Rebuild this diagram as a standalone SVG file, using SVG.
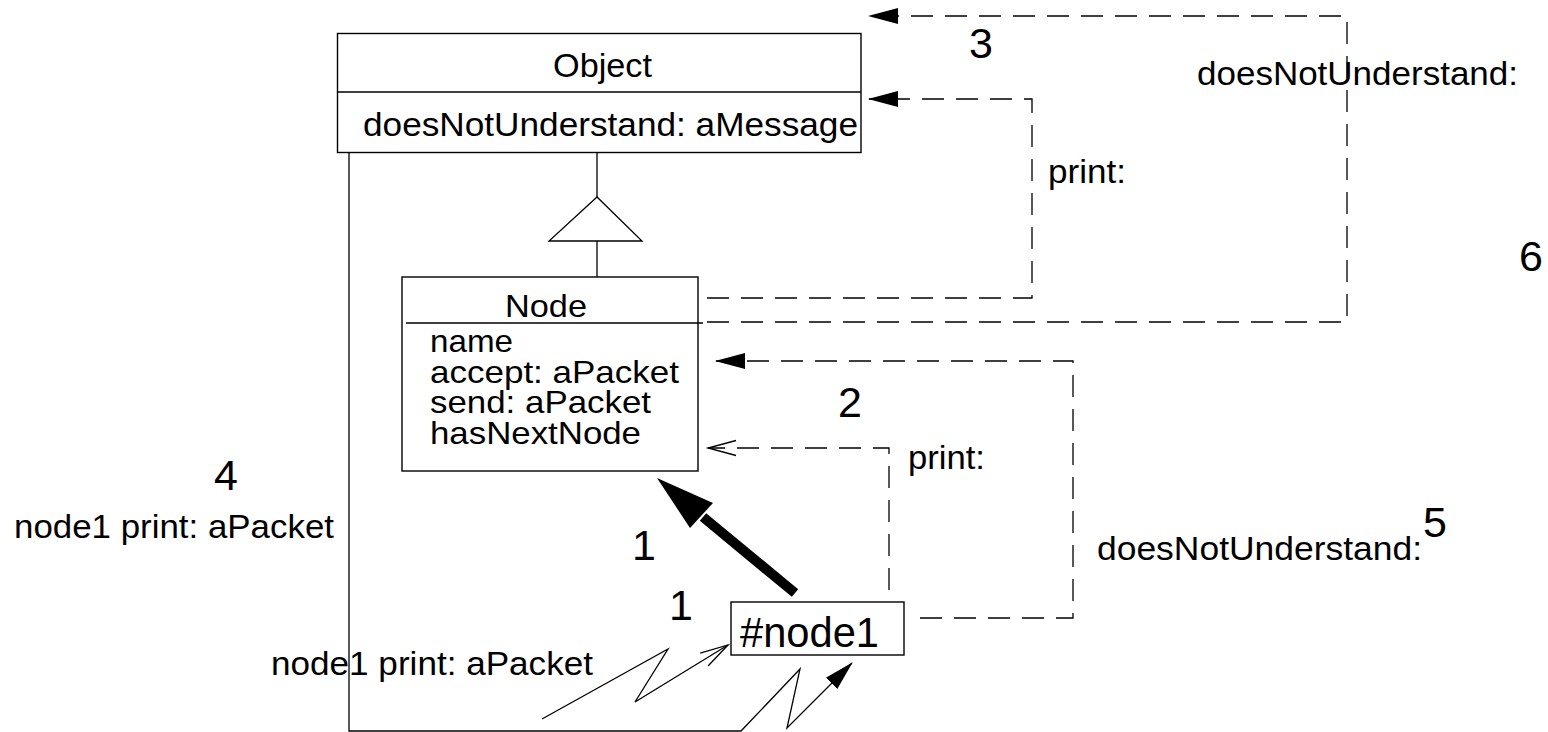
<svg xmlns="http://www.w3.org/2000/svg" width="1548" height="732" viewBox="0 0 1548 732">
<style>
  .box { fill: #fff; stroke: #000; stroke-width: 1.4; }
  .ln { fill: none; stroke: #000; stroke-width: 1.3; }
  .dash { fill: none; stroke: #000; stroke-width: 1.3; stroke-dasharray: 22 12; }
  text { font-family: "Liberation Sans", Arial, Helvetica, sans-serif; fill: #000; }
  .t32 { font-size: 33.5px; }
  .t30 { font-size: 31.5px; }
  .num { font-size: 43px; text-anchor: middle; }
</style>
<defs>
  <marker id="filled" markerUnits="userSpaceOnUse" markerWidth="30" markerHeight="20" viewBox="0 0 30 20" refX="29" refY="10" orient="auto">
    <path d="M0,2 L30,10 L0,18 Z" fill="#000" stroke="none"/>
  </marker>
  <marker id="open" markerUnits="userSpaceOnUse" markerWidth="32" markerHeight="20" viewBox="0 0 32 20" refX="29" refY="10" orient="auto">
    <path d="M1,2.5 L29,10 L1,17.5" fill="none" stroke="#000" stroke-width="1.3" stroke-dasharray="none"/>
  </marker>
</defs>

<g id="connectors">
  <!-- generalization Node -> Object -->
  <line class="ln" x1="597" y1="153" x2="597" y2="197"/>
  <polygon class="ln" points="597,197 549,241 642,241" fill="#fff"/>
  <line class="ln" x1="597" y1="241" x2="597" y2="277"/>
  <!-- big left loop with zigzag to #node1 -->
  <path class="ln" d="M349,153 V731 H741 L800,669 L787,728 L852,663" marker-end="url(#filled)"/>
  <!-- incoming zigzag message -->
  <path class="ln" d="M542,719 L668,649 L635,702 L728,645" marker-end="url(#open)"/>
  <!-- thick instance-of arrow -->
  <line x1="795" y1="593" x2="703" y2="517" stroke="#000" stroke-width="10"/>
  <polygon points="657,478 690,528 713,503" fill="#000"/>
  <!-- print: from #node1 to Node (open head) -->
  <path class="dash" d="M889,590 V448 H708" marker-end="url(#open)"/>
  <!-- doesNotUnderstand: from #node1 to Node -->
  <path class="dash" d="M920,618 H1073 V361 H716" marker-end="url(#filled)"/>
  <!-- print: from Node to Object -->
  <path class="dash" d="M707,298 H1032 V99 H869" marker-end="url(#filled)"/>
  <!-- doesNotUnderstand: from Node to Object -->
  <path class="dash" d="M707,322 H1347 V16 H869" marker-end="url(#filled)"/>
</g>

<g id="object">
  <rect class="box" x="337.5" y="33.5" width="523.5" height="119"/>
  <line class="ln" x1="337.5" y1="92" x2="861" y2="92"/>
  <text class="t32" x="553" y="77" textLength="99" lengthAdjust="spacingAndGlyphs">Object</text>
  <text class="t32" x="363" y="136" textLength="495" lengthAdjust="spacingAndGlyphs">doesNotUnderstand: aMessage</text>
</g>

<g id="node">
  <rect class="box" x="402" y="277" width="296" height="194"/>
  <line class="ln" x1="406" y1="323" x2="703" y2="323"/>
  <text class="t30" x="505" y="317" textLength="82" lengthAdjust="spacingAndGlyphs">Node</text>
  <text class="t30" x="430" y="352" textLength="83" lengthAdjust="spacingAndGlyphs">name</text>
  <text class="t30" x="430" y="383" textLength="249" lengthAdjust="spacingAndGlyphs">accept: aPacket</text>
  <text class="t30" x="430" y="413" textLength="221" lengthAdjust="spacingAndGlyphs">send: aPacket</text>
  <text class="t30" x="430" y="444" textLength="211" lengthAdjust="spacingAndGlyphs">hasNextNode</text>
</g>

<g id="node1">
  <rect class="box" x="731" y="602" width="173" height="53"/>
  <text x="740" y="647" font-size="42" textLength="139" lengthAdjust="spacingAndGlyphs">#node1</text>
</g>

<g id="labels">
  <text class="num" x="981" y="58">3</text>
  <text class="t32" x="1197" y="85" textLength="321" lengthAdjust="spacingAndGlyphs">doesNotUnderstand:</text>
  <text class="t32" x="1048" y="183" textLength="78" lengthAdjust="spacingAndGlyphs">print:</text>
  <text class="num" x="1531" y="271">6</text>
  <text class="num" x="850" y="417">2</text>
  <text class="t32" x="908" y="469" textLength="77" lengthAdjust="spacingAndGlyphs">print:</text>
  <text class="num" x="226" y="490">4</text>
  <text class="t32" x="14" y="538" textLength="320" lengthAdjust="spacingAndGlyphs">node1 print: aPacket</text>
  <text class="num" x="644" y="560">1</text>
  <text class="t32" x="1097" y="560" textLength="325" lengthAdjust="spacingAndGlyphs">doesNotUnderstand:</text>
  <text class="num" x="1435" y="537">5</text>
  <text class="num" x="681" y="620">1</text>
  <text class="t32" x="271" y="675" textLength="322" lengthAdjust="spacingAndGlyphs">node1 print: aPacket</text>
</g>
</svg>
